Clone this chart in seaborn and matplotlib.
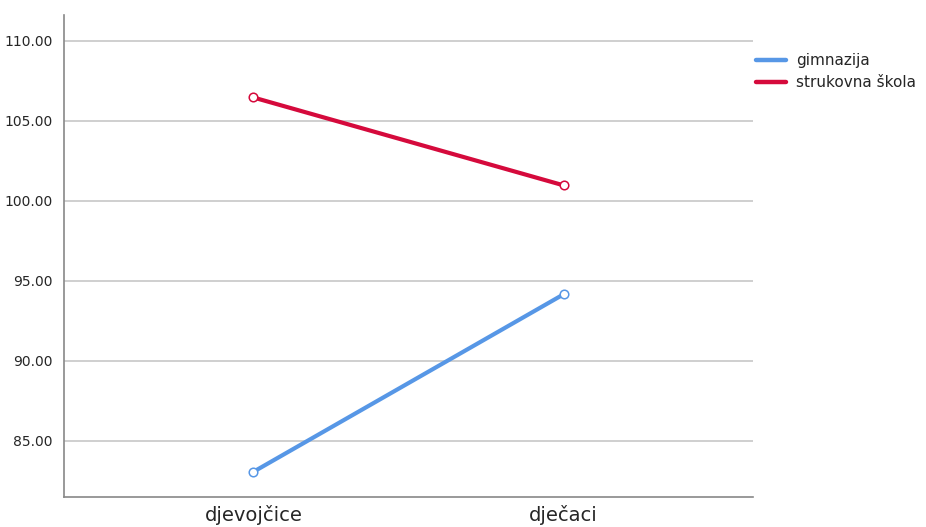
import pandas as pd
import matplotlib
matplotlib.use("Agg")
import matplotlib.pyplot as plt
import seaborn as sns

# podaci procitani sa slike
spol = ["djevojčice", "dječaci"]
gimnazija = [83.07, 94.16]
strukovna = [106.45, 100.96]
skole = ["gimnazija", "strukovna škola"]

df = pd.DataFrame({
    "spol": spol * 2,
    "vrijednost": gimnazija + strukovna,
    "skola": [skole[0]] * 2 + [skole[1]] * 2,
})

sns.set_style("white")
plt.rcParams["font.family"] = ["DejaVu Sans"]

boje = {"gimnazija": "#5797E6", "strukovna škola": "#D50A3C"}

fig = plt.figure(figsize=(9.26, 5.27), dpi=100)
ax = fig.add_axes([64 / 926, 30 / 527, 689 / 926, 482 / 527])

sns.pointplot(data=df, x="spol", y="vrijednost", hue="skola", palette=boje,
              markers="o", linewidth=3, markersize=0, errorbar=None, ax=ax,
              legend=False)
# prazni kruzici na krajevima
for s in skole:
    sub = df[df["skola"] == s]
    ax.scatter([spol.index(v) for v in sub["spol"]], sub["vrijednost"], s=38,
               facecolors="white", edgecolors=boje[s], linewidths=1.1, zorder=5)

ax.set_xlim(-0.61, 1.61)
ax.set_ylim(81.5, 111.6)
ax.set_yticks([85, 90, 95, 100, 105, 110])
ax.set_yticklabels([f"{v:.2f}" for v in [85, 90, 95, 100, 105, 110]], fontsize=10)
ax.tick_params(axis="x", labelsize=14, length=0, pad=6)
ax.tick_params(axis="y", length=0, pad=8)
ax.yaxis.grid(True, color="#cccccc", linewidth=1.3)
ax.set_axisbelow(True)
ax.set_xlabel("")
ax.set_ylabel("")
for side in ["top", "right"]:
    ax.spines[side].set_visible(False)
ax.spines["left"].set_color("#888888")
ax.spines["bottom"].set_color("#888888")
ax.spines["left"].set_linewidth(1.2)
ax.spines["bottom"].set_linewidth(1.2)

handles = [plt.Line2D([], [], color=boje[s], linewidth=3.2) for s in skole]
fig.legend(handles, skole, loc="upper left", bbox_to_anchor=(756 / 926, 1 - 53 / 527),
           frameon=False, fontsize=11, handlelength=1.95, handletextpad=0.65,
           labelspacing=0.45, borderaxespad=0, borderpad=0)

fig.savefig("out.png", dpi=100)
